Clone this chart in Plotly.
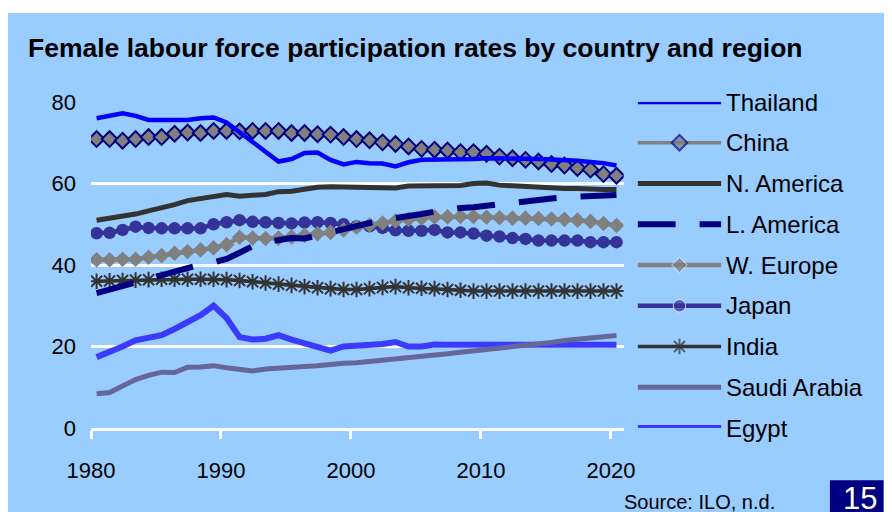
import plotly.graph_objects as go

years = list(range(1980, 2021))
tick_years = [1980, 1990, 2000, 2010, 2020]
y_ticks = [0, 20, 40, 60, 80]

thailand = [76.0, 76.5, 77.2, 76.6, 75.6, 75.6, 75.6, 75.6, 76.0, 76.2,
            75.0, 72.6, 70.5, 67.8, 65.4, 66.0, 67.5, 67.6, 65.8, 64.7,
            65.3, 65.0, 64.9, 64.2, 65.2, 65.8, 65.8, 65.8, 65.8, 66.0,
            66.2, 66.2, 66.2, 66.0, 66.0, 65.9, 65.8, 65.6, 65.3, 65.0, 64.4]
china = [70.9, 70.9, 70.5, 70.9, 71.4, 71.4, 72.2, 72.5, 72.4, 72.9,
         72.9, 72.8, 72.9, 72.9, 72.9, 72.4, 72.4, 72.1, 72.0, 71.4,
         70.9, 70.6, 70.1, 69.7, 69.1, 68.5, 68.3, 68.1, 67.7, 67.7,
         67.3, 66.6, 66.2, 65.8, 65.4, 64.8, 64.4, 63.8, 63.4, 62.3, 61.9]
n_america = [51.0, 51.5, 51.9, 52.5, 53.3, 54.0, 54.8, 55.8, 56.3, 57.1,
             57.3, 56.9, 57.2, 57.3, 58.0, 58.1, 58.6, 59.1, 59.2, 59.1,
             59.1, 59.0, 59.0, 58.9, 59.4, 59.5, 59.5, 59.4, 59.5, 60.0,
             60.1, 59.6, 59.4, 59.4, 59.3, 58.9, 58.8, 58.8, 58.5, 58.5, 58.5]
l_america = [33.1, 34.0, 35.0, 35.8, 36.7, 37.6, 38.5, 39.3, 40.1, 40.6,
             41.5, 43.0, 44.6, 45.6, 46.0, 46.6, 46.5, 47.3, 48.2, 48.9,
             49.6, 50.3, 51.0, 51.4, 52.0, 52.5, 53.1, 53.7, 54.0, 54.2,
             54.6, 55.0, 55.2, 55.6, 56.0, 56.3, 56.6, 56.8, 57.0, 57.2, 57.2]
w_europe = [41.3, 41.3, 41.4, 41.4, 41.9, 42.3, 42.9, 43.3, 43.7, 44.2,
            45.0, 46.8, 46.6, 46.5, 46.6, 46.9, 47.3, 47.7, 48.0, 48.6,
            49.3, 49.8, 50.3, 50.8, 51.2, 51.5, 51.8, 51.8, 51.9, 51.9,
            51.7, 51.6, 51.5, 51.5, 51.4, 51.3, 51.2, 51.0, 50.7, 50.2, 49.7]
japan = [47.8, 47.9, 48.6, 49.4, 49.1, 49.0, 49.0, 49.0, 49.0, 50.0,
         50.5, 51.0, 50.6, 50.5, 50.3, 50.2, 50.4, 50.5, 50.3, 50.0,
         49.5, 49.5, 49.1, 48.5, 48.4, 48.4, 48.6, 48.0, 48.0, 47.7,
         47.2, 47.0, 46.6, 46.4, 46.0, 46.0, 46.0, 46.0, 45.6, 45.6, 45.6]
india = [36.0, 36.1, 36.2, 36.3, 36.4, 36.5, 36.5, 36.5, 36.5, 36.5,
         36.4, 36.2, 35.9, 35.6, 35.3, 35.0, 34.7, 34.4, 34.2, 34.0,
         34.0, 34.2, 34.5, 34.7, 34.4, 34.3, 34.2, 34.0, 33.8, 33.6,
         33.6, 33.6, 33.6, 33.6, 33.6, 33.6, 33.6, 33.6, 33.6, 33.6, 33.6]
saudi_arabia = [8.4, 8.7, 10.3, 11.9, 12.9, 13.7, 13.6, 14.9, 15.0, 15.3,
                14.8, 14.4, 14.0, 14.5, 14.6, 14.7, 15.1, 15.3, 15.7, 15.9,
                16.0, 16.3, 16.6, 16.9, 17.0, 17.4, 17.8, 18.2, 18.6, 18.9,
                19.3, 19.7, 20.0, 20.2, 20.6, 21.0, 21.5, 21.8, 22.1, 22.3, 22.7]
egypt = [17.4, 18.6, 20.0, 21.5, 22.0, 22.8, 24.3, 26.1, 27.7, 30.0,
         27.0, 22.3, 21.7, 21.9, 22.8, 21.7, 20.7, 19.7, 19.0, 20.0,
         20.2, 20.2, 20.6, 21.1, 20.0, 20.0, 20.5, 20.4, 20.4, 20.4,
         20.4, 20.4, 20.4, 20.4, 20.4, 20.4, 20.4, 20.4, 20.4, 20.4, 20.4]

names = ['Thailand', 'China', 'N. America', 'L. America', 'W. Europe',
         'Japan', 'India', 'Saudi Arabia', 'Egypt']
values = [thailand, china, n_america, l_america, w_europe,
          japan, india, saudi_arabia, egypt]
legend_rows = [80, 70, 60, 50, 40, 30, 20, 10, 0]

FONT = 'Liberation Sans, Arial, sans-serif'
BG = '#99CCFF'

# line / marker style per series
styles = {
    'Thailand': dict(line=dict(color='#0000FF', width=4.5), marker=None),
    'China': dict(line=dict(color='#808080', width=3.5),
                  marker=dict(symbol='diamond', size=12, color='#808080',
                              line=dict(color='#000080', width=2))),
    'N. America': dict(line=dict(color='#333333', width=5), marker=None),
    'L. America': dict(line=dict(color='#000080', width=6, dash='38px,24px'), marker=None),
    'W. Europe': dict(line=dict(color='#808080', width=4.5),
                      marker=dict(symbol='diamond', size=12, color='#808080')),
    'Japan': dict(line=dict(color='#333399', width=4.5),
                  marker=dict(symbol='circle', size=12.5, color='#333399')),
    'India': dict(line=dict(color='#333333', width=3.5),
                  marker=dict(symbol='asterisk-open', size=13, color='#333333',
                              line=dict(color='#333333', width=2))),
    'Saudi Arabia': dict(line=dict(color='#666699', width=5), marker=None),
    'Egypt': dict(line=dict(color='#3B3BFF', width=6), marker=None),
}

fig = go.Figure()

# draw bottom series first so top ones sit above
for name, vals in reversed(list(zip(names, values))):
    st = styles[name]
    tr = go.Scatter(x=years, y=vals, name=name, mode='lines', line=st['line'],
                    showlegend=False, hoverinfo='skip')
    if st['marker']:
        tr.mode = 'lines+markers'
        tr.marker = st['marker']
    fig.add_trace(tr)

# hand-drawn legend on its own little axis pair
for name, row in zip(names, legend_rows):
    st = styles[name]
    mk = dict(size=[0, 0, 0])
    if st['marker']:
        mk = dict(st['marker'])
        mk['size'] = [0, st['marker']['size'], 0]
    fig.add_trace(go.Scatter(x=[0, 0.5, 1], y=[row] * 3, mode='lines+markers',
                             line=st['line'], marker=mk, xaxis='x2', yaxis='y2',
                             showlegend=False, hoverinfo='skip', cliponaxis=False))
    fig.add_annotation(x=1, y=row, xref='x2', yref='y2', text=name, showarrow=False,
                       xanchor='left', yanchor='middle', xshift=3,
                       font=dict(family=FONT, size=24, color='black'))

# white strip at top, page box, source
fig.add_shape(type='rect', xref='paper', yref='paper', x0=-0.2, x1=1.1, y0=1.273, y1=1.4,
              fillcolor='white', line_width=0, layer='below')
fig.add_shape(type='rect', xref='paper', yref='paper', x0=0.951, x1=1.02, y0=-0.16, y1=-0.3,
              fillcolor='#000080', line_width=0)
fig.add_annotation(x=0.990, y=-0.215, xref='paper', yref='paper', text='15', showarrow=False,
                   xanchor='center', yanchor='middle',
                   font=dict(family=FONT, size=31, color='white'))
fig.add_annotation(x=0.683, y=-0.227, xref='paper', yref='paper', text='Source: ILO, n.d.',
                   showarrow=False, xanchor='left', yanchor='middle',
                   font=dict(family=FONT, size=20, color='black'))

fig.update_layout(
    width=884, height=504,
    margin=dict(l=83, r=22, t=94, b=84),
    paper_bgcolor=BG, plot_bgcolor=BG,
    font=dict(family=FONT, size=22, color='black'),
    title=dict(text='<b>Female labour force participation rates by country and region</b>',
               x=20 / 884, xanchor='left', xref='container',
               y=1 - 40 / 504, yanchor='middle', yref='container',
               font=dict(family=FONT, size=26.5, color='black')),
    xaxis=dict(domain=[0, 534 / 779], range=[1979.57, 2020.55],
               tickvals=[t - 0.43 for t in tick_years], ticktext=[str(t) for t in tick_years],
               showgrid=False, zeroline=False, showline=True, linecolor='white', linewidth=3,
               ticks='outside', ticklen=8, tickwidth=3, tickcolor='white',
               ticklabelstandoff=13, tickfont=dict(size=22)),
    yaxis=dict(range=[0, 80], tickvals=y_ticks, showgrid=True, gridcolor='white', gridwidth=3,
               zeroline=False, showline=False, ticks='', ticklabelstandoff=14,
               tickfont=dict(size=22)),
    xaxis2=dict(domain=[548 / 779, 632 / 779], range=[0, 1], visible=False, anchor='y2'),
    yaxis2=dict(range=[0, 80], visible=False, anchor='x2', overlaying='y', showgrid=False),
)

fig.write_html("out.html")
